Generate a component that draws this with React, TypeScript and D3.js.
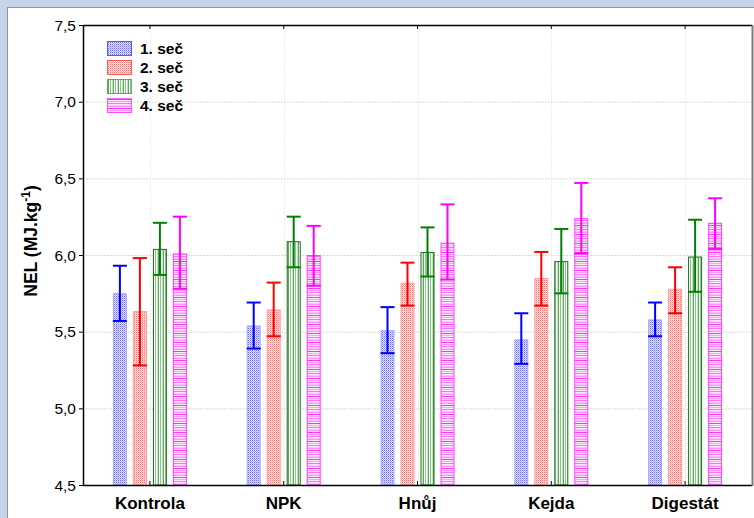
import { useMemo } from 'react';
import * as d3 from 'd3';

const categories = ['Kontrola', 'NPK', 'Hnůj', 'Kejda', 'Digestát'];
const seriesNames = ['1. seč', '2. seč', '3. seč', '4. seč'];
// means per seč, in category order
const means = [
  [5.75, 5.54, 5.51, 5.45, 5.58],
  [5.635, 5.645, 5.82, 5.85, 5.78],
  [6.04, 6.09, 6.02, 5.96, 5.99],
  [6.01, 6.0, 6.08, 6.24, 6.21],
];
const errLow = [
  [5.57, 5.39, 5.36, 5.29, 5.47],
  [5.28, 5.47, 5.67, 5.67, 5.62],
  [5.87, 5.92, 5.86, 5.75, 5.76],
  [5.78, 5.8, 5.84, 6.01, 6.04],
];
const errHigh = [
  [5.93, 5.69, 5.66, 5.62, 5.69],
  [5.98, 5.82, 5.95, 6.02, 5.92],
  [6.21, 6.25, 6.18, 6.17, 6.23],
  [6.25, 6.19, 6.33, 6.47, 6.37],
];
const yTicks = [4.5, 5.0, 5.5, 6.0, 6.5, 7.0, 7.5];

const lineColors = ['#0000ff', '#ff0000', '#008000', '#ff00ff'];
const edgeColors = ['#a8a8ff', '#ffa0a0', '#1f6b1f', '#ff40ff'];

const W = 754;
const H = 518;
const m = { left: 83, right: 752, top: 25, bottom: 485 };

// fine dotted checker tile
function Checker({ id, dark, mid, light }: { id: string; dark: string; mid: string; light: string }) {
  return (
    <pattern id={id} width="2" height="2" patternUnits="userSpaceOnUse">
      <rect width="2" height="2" fill={light} />
      <rect x="0" y="0" width="1" height="1" fill={dark} />
      <rect x="1" y="1" width="1" height="1" fill={mid} />
    </pattern>
  );
}

export default function App() {
  const x = useMemo(() => d3.scaleBand<string>().domain(categories).range([m.left, m.right]), []);
  const inner = useMemo(
    () => d3.scaleBand<string>().domain(seriesNames).range([-40, 40]).paddingInner(0.3).paddingOuter(0.15),
    []
  );
  const y = useMemo(() => d3.scaleLinear().domain([4.5, 7.5]).range([m.bottom, m.top]), []);
  const fmt = (v: number) => v.toFixed(1).replace('.', ',');
  const bw = inner.bandwidth();
  const font = 'Arial, "Liberation Sans", sans-serif';

  return (
    <svg width={W} height={H} style={{ position: 'absolute', left: 0, top: 0 }} fontFamily={font}>
      <defs>
        <Checker id="p0" dark="#6a6aff" mid="#a8a8ff" light="#e4e4ff" />
        <Checker id="p1" dark="#ff7070" mid="#ffb0b0" light="#ffe4e4" />
        <pattern id="p2" width="5" height="4" patternUnits="userSpaceOnUse">
          <rect width="5" height="4" fill="#ffffff" />
          <rect x="0" width="1" height="4" fill="#8cc88c" />
          <rect x="2" width="1" height="4" fill="#c4e4c4" />
          <rect x="3" width="1" height="4" fill="#5aaa5a" />
        </pattern>
        <pattern id="p3" width="4" height="9" patternUnits="userSpaceOnUse">
          <rect width="4" height="9" fill="#ffe6ff" />
          <rect y="0" width="4" height="1" fill="#ff30ff" />
          <rect y="2" width="4" height="1" fill="#ffa0ff" />
          <rect y="4" width="4" height="1" fill="#ff70ff" />
          <rect y="6" width="4" height="1" fill="#ffc4ff" />
          <rect y="7" width="4" height="1" fill="#ff90ff" />
        </pattern>
      </defs>

      <rect width={W} height={H} fill="#c6d4ea" />
      <rect x={7} y={7} width={W} height={H} fill="#8d96a3" />
      <rect x={8} y={8} width={W} height={H} fill="#ffffff" />

      {/* grid */}
      <g stroke="#d8d8d8" strokeWidth={1} strokeDasharray="2,1">
        {yTicks.slice(1, -1).map((t) => (
          <line key={t} x1={m.left} x2={m.right} y1={y(t) + 0.5} y2={y(t) + 0.5} />
        ))}
        {categories.map((c) => {
          const cx = Math.round(x(c)! + x.bandwidth() / 2) + 0.5;
          return <line key={c} x1={cx} x2={cx} y1={m.top} y2={m.bottom} stroke="#ececec" />;
        })}
      </g>

      {/* bars */}
      {seriesNames.map((s, si) => (
        <g key={s}>
          {categories.map((c, ci) => {
            const bx = x(c)! + x.bandwidth() / 2 + inner(s)!;
            const top = y(means[si][ci]);
            return (
              <rect
                key={c}
                x={bx + 0.5}
                y={top + 0.5}
                width={bw - 1}
                height={m.bottom - top - 0.5}
                fill={`url(#p${si})`}
                stroke={edgeColors[si]}
                strokeWidth={1}
              />
            );
          })}
        </g>
      ))}

      {/* error bars */}
      {seriesNames.map((s, si) => (
        <g key={s} stroke={lineColors[si]} strokeWidth={2} fill="none">
          {categories.map((c, ci) => {
            const cx = x(c)! + x.bandwidth() / 2 + inner(s)! + bw / 2;
            const lo = y(errLow[si][ci]);
            const hi = y(errHigh[si][ci]);
            return (
              <g key={c}>
                <line x1={cx} x2={cx} y1={lo} y2={hi} />
                <line x1={cx - 7} x2={cx + 7} y1={hi} y2={hi} />
                <line x1={cx - 7} x2={cx + 7} y1={lo} y2={lo} />
              </g>
            );
          })}
        </g>
      ))}

      {/* frame */}
      <path
        d={`M${m.left + 0.5},${m.top + 0.5}H${m.right}M${m.left + 0.5},${m.top}V${m.bottom + 0.5}H${m.right}`}
        stroke="#000"
        strokeWidth={1.5}
        fill="none"
      />
      <line x1={m.right + 0.5} x2={m.right + 0.5} y1={m.top} y2={m.bottom + 1} stroke="#7a7a7a" strokeWidth={2} />

      {/* y axis */}
      <g>
        {yTicks.map((t) => (
          <g key={t}>
            <line x1={m.left - 4} x2={m.left} y1={y(t) + 0.5} y2={y(t) + 0.5} stroke="#000" />
            <text x={76} y={y(t) + 5.5} textAnchor="end" fontSize={15.5} fill="#000">
              {fmt(t)}
            </text>
          </g>
        ))}
      </g>

      {/* x axis */}
      {categories.map((c) => {
        const cx = x(c)! + x.bandwidth() / 2;
        return (
          <g key={c}>
            <line x1={cx} x2={cx} y1={m.bottom} y2={m.bottom - 4} stroke="#000" />
            <line x1={cx} x2={cx} y1={m.top} y2={m.top + 4} stroke="#000" />
            <text x={cx} y={509} textAnchor="middle" fontSize={17} fontWeight="bold" fill="#000">
              {c}
            </text>
          </g>
        );
      })}

      <text
        transform={`translate(37,${(m.top + m.bottom) / 2 - 14}) rotate(-90)`}
        textAnchor="middle"
        fontSize={17.5}
        fontWeight="bold"
        fill="#000"
      >
        NEL (MJ.kg
        <tspan dy={-7} fontSize={12}>-1</tspan>
        <tspan dy={7}>)</tspan>
      </text>

      {/* legend */}
      {seriesNames.map((s, si) => {
        const ly = 41 + si * 19;
        return (
          <g key={s}>
            <rect x={107.5} y={ly + 0.5} width={24} height={14} fill={`url(#p${si})`} stroke={lineColors[si]} strokeOpacity={0.6} />
            <text x={140} y={ly + 13} fontSize={15.5} fontWeight="bold" fill="#000">
              {s}
            </text>
          </g>
        );
      })}
    </svg>
  );
}
